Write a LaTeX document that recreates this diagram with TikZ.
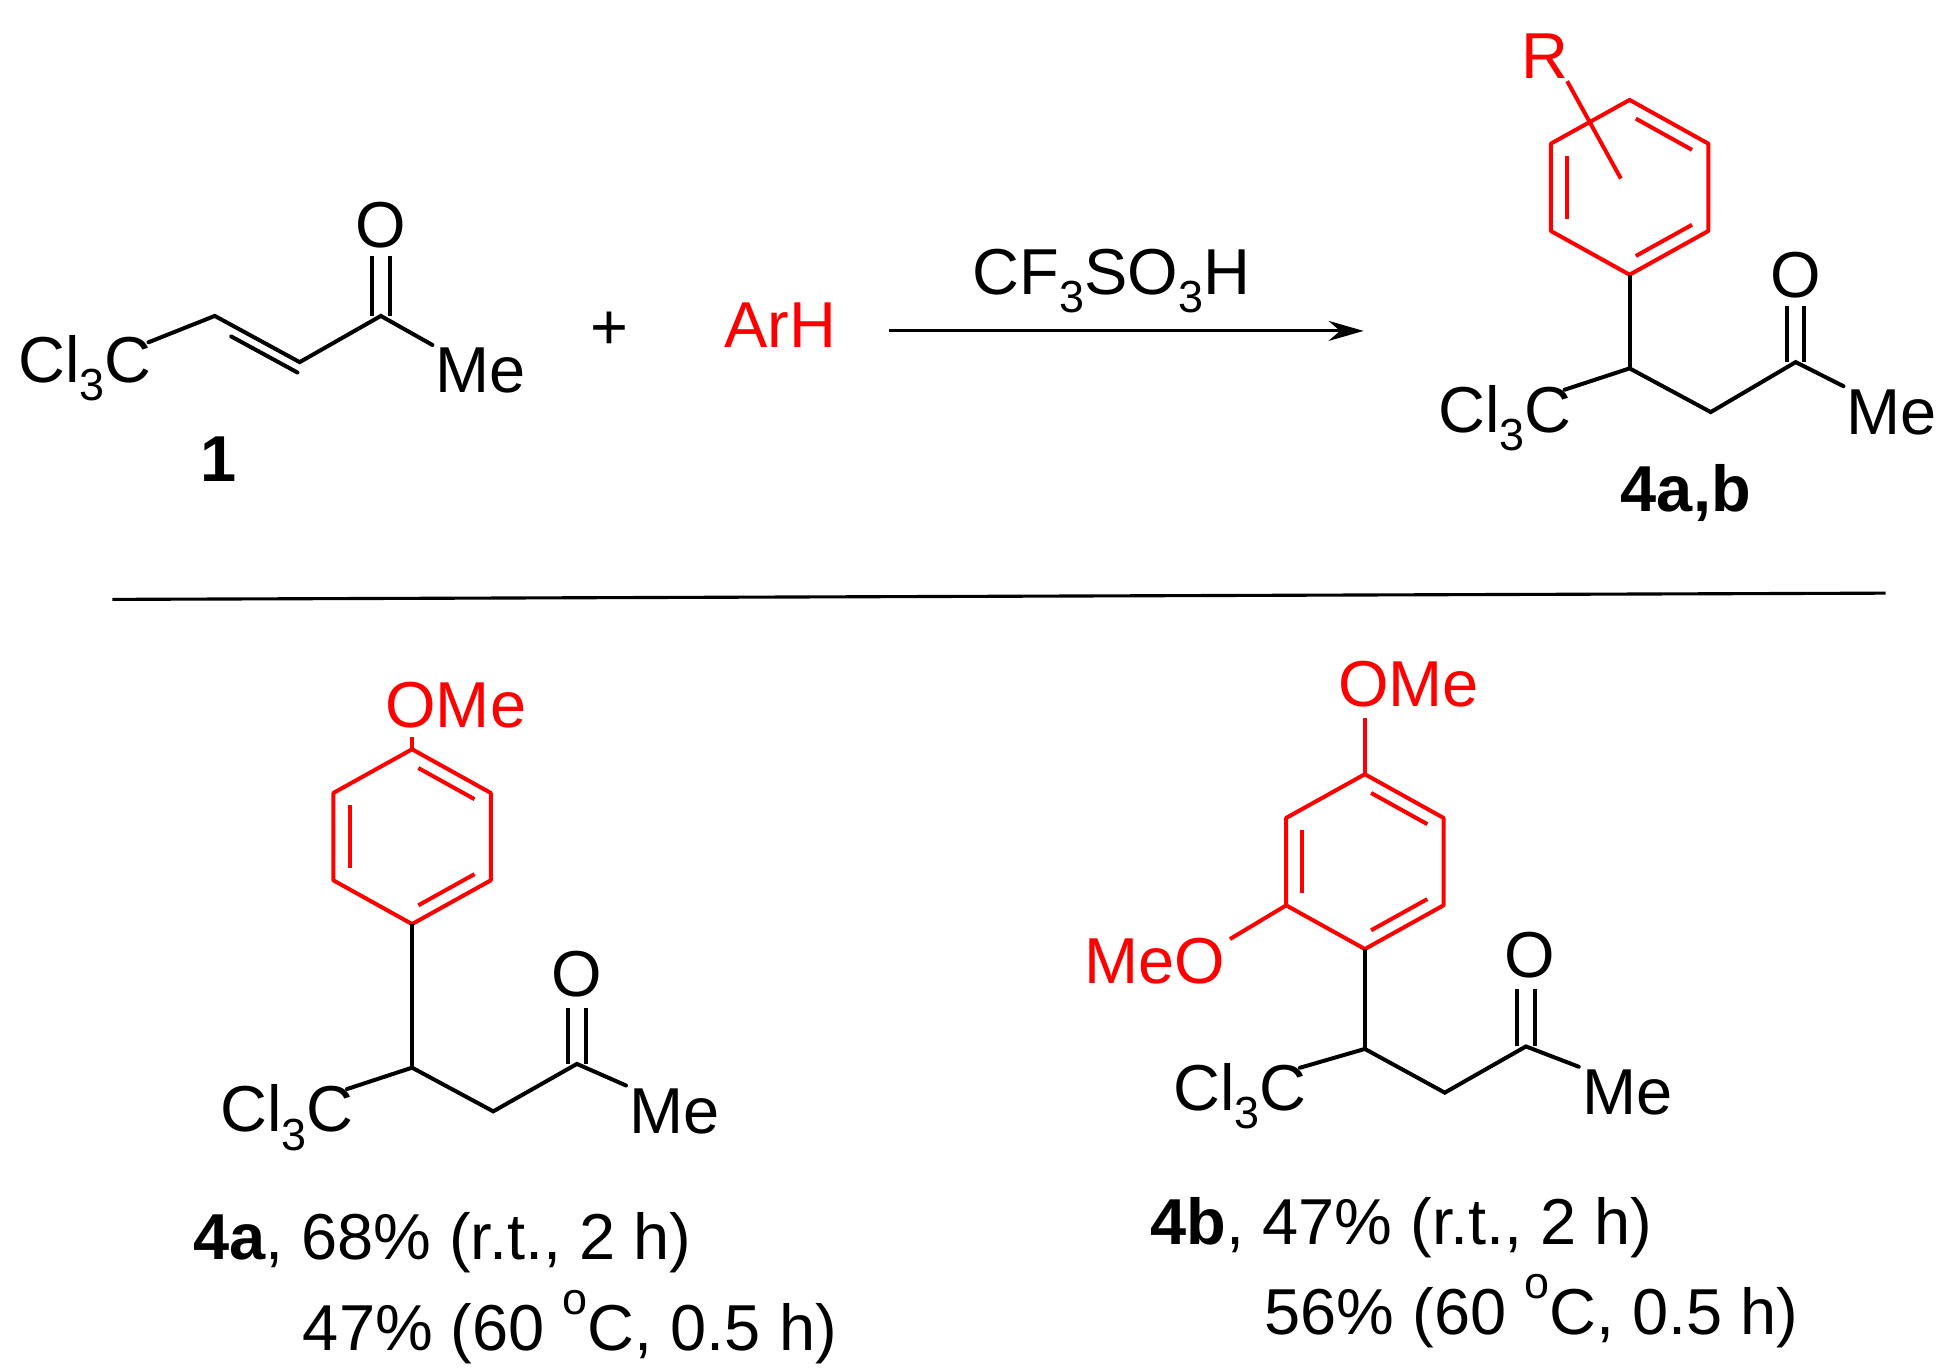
\documentclass[tikz,border=0pt]{standalone}
\usepackage{fontspec}
\setmainfont{Liberation Sans}
\usetikzlibrary{calc,arrows.meta}
\newcommand\mysub[1]{\raisebox{-0.28em}{\fontsize{36}{36}\selectfont #1}}
\newcommand\mydeg{\raisebox{0.55em}{\fontsize{36}{36}\selectfont o}}
\begin{document}
\begin{tikzpicture}[x=1pt,y=-1pt,line width=3.2pt,
  lbl/.style={font=\fontsize{52}{58}\selectfont,inner sep=1pt},
  red lbl/.style={lbl,text=red},
  ring/.style={draw=red,line width=3.2pt},
  bnd/.style={line cap=round}]
\useasboundingbox (0,0) rectangle (1560,1095);
% compound 1
\node[lbl] (c1) at (68,295) {Cl\mysub{3}C};
\node[lbl] (m1) at (385,297) {Me};
\node[lbl] (o1) at (305,180) {O};
\coordinate (a1) at (172,253); \coordinate (a2) at (240,290); \coordinate (a3) at (305,253);
\draw[bnd] (c1.north east) ++(-5,8) -- (a1) -- (a2) -- (a3) -- (m1.north west);
\draw[bnd] ($(a1)!0.12!(a2)+(5,12)$) -- ($(a1)!0.9!(a2)+(5,12)$);
\draw (298,253) -- (298,205); \draw (312,253) -- (312,205);
\node[lbl,font=\fontsize{52}{58}\selectfont\bfseries] (l1) at (175,368) {1};
\node[lbl] (plus) at (488,265) {+};
\node[red lbl] (arh) at (625,260) {ArH};
\coordinate (as) at (712,265); \coordinate (ae) at (1092,265);
\draw[line width=2.5pt,-{Stealth[length=28pt,width=16pt]}] (as) -- (ae);
\node[lbl] (cat) at (890,225) {CF\mysub{3}SO\mysub{3}H};
% product 4a,b
\begin{scope}[shift={(1305,80)}]
\draw[ring,line join=round] (0,0)--(63,35)--(63,105)--(0,140)--(-63,105)--(-63,35)--cycle;
\draw[ring] (-50,45)--(-50,95); \draw[ring] (5,15)--(50,40); \draw[ring] (50,100)--(5,125);
\end{scope}
\node[red lbl] (r) at (1237,45) {R};
\draw[red] (1255,65) -- (1298,143);
\coordinate (q1) at (1305,295); \coordinate (q2) at (1370,330); \coordinate (q3) at (1438,290);
\node[lbl] (c2) at (1205,335) {Cl\mysub{3}C};
\node[lbl] (m2) at (1515,330) {Me};
\node[lbl] (o2) at (1438,220) {O};
\draw (1305,220) -- (q1);
\draw[bnd] (c2.north east)++(-8,6) -- (q1) -- (q2) -- (q3) -- (m2.north west);
\draw (1431,290) -- (1431,245); \draw (1445,290) -- (1445,245);
\node[lbl,font=\fontsize{52}{58}\selectfont\bfseries] (l2) at (1350,395) {4a,b};
\draw[line width=2.5pt] (90,480) -- (1510,475);
% 4a
\begin{scope}[shift={(330,600)}]
\draw[ring,line join=round] (0,0)--(63,35)--(63,105)--(0,140)--(-63,105)--(-63,35)--cycle;
\draw[ring] (-50,45)--(-50,95); \draw[ring] (5,15)--(50,40); \draw[ring] (50,100)--(5,125);
\end{scope}
\node[red lbl] (ome1) at (365,565) {OMe};
\draw[red] (330,600) -- (330,590);
\coordinate (s1) at (330,855); \coordinate (s2) at (395,890); \coordinate (s3) at (462,852);
\draw (330,740) -- (s1);
\node[lbl] (c3) at (230,895) {Cl\mysub{3}C};
\node[lbl] (m3) at (540,890) {Me};
\node[lbl] (o3) at (462,780) {O};
\draw[bnd] (c3.north east)++(-8,6) -- (s1) -- (s2) -- (s3) -- (m3.north west);
\draw (455,852) -- (455,807); \draw (469,852) -- (469,807);
\node[lbl,anchor=west] (t1) at (152,995) {\textbf{4a}, 68\% (r.t., 2 h)};
\node[lbl,anchor=west] (t2) at (240,1063) {47\% (60 \mydeg C, 0.5 h)};
% 4b
\begin{scope}[shift={(1093,620)}]
\draw[ring,line join=round] (0,0)--(63,35)--(63,105)--(0,140)--(-63,105)--(-63,35)--cycle;
\draw[ring] (-50,45)--(-50,95); \draw[ring] (5,15)--(50,40); \draw[ring] (50,100)--(5,125);
\end{scope}
\node[red lbl] (ome2) at (1128,548) {OMe};
\draw[red] (1093,620) -- (1093,575);
\node[red lbl] (meo) at (925,770) {MeO};
\draw[red] (1030,725) -- (985,752);
\coordinate (u1) at (1093,840); \coordinate (u2) at (1157,875); \coordinate (u3) at (1222,838);
\draw (1093,760) -- (u1);
\node[lbl] (c4) at (993,878) {Cl\mysub{3}C};
\node[lbl] (m4) at (1303,875) {Me};
\node[lbl] (o4) at (1225,765) {O};
\draw[bnd] (c4.north east)++(-8,6) -- (u1) -- (u2) -- (u3) -- (m4.north west);
\draw (1215,838) -- (1215,792); \draw (1229,838) -- (1229,792);
\node[lbl,anchor=west] (t3) at (919,983) {\textbf{4b}, 47\% (r.t., 2 h)};
\node[lbl,anchor=west] (t4) at (1010,1050) {56\% (60 \mydeg C, 0.5 h)};
\end{tikzpicture}
\end{document}
